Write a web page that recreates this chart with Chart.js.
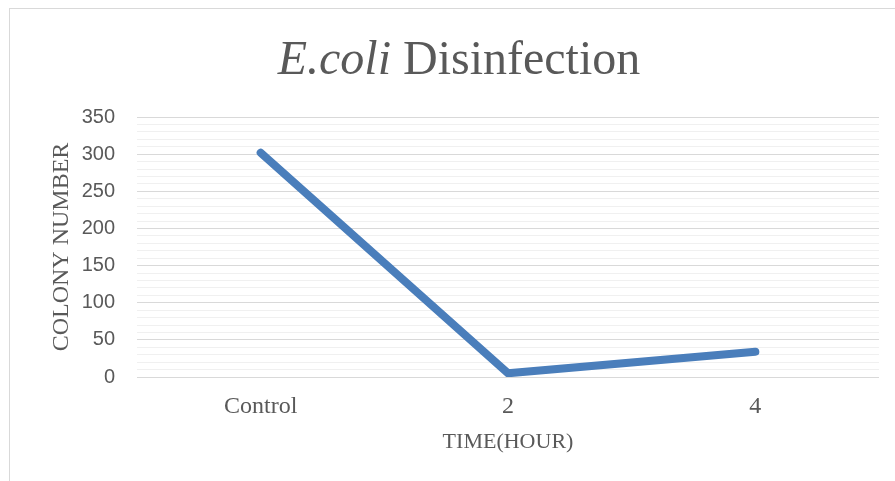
<!DOCTYPE html>
<html>
<head>
<meta charset="utf-8">
<script src="https://cdn.jsdelivr.net/npm/chart.js@4/dist/chart.umd.min.js"></script>
<style>
  html,body{margin:0;padding:0;background:#fff;}
  #wrap{position:relative;width:895px;height:481px;overflow:hidden;}
  #frame{position:absolute;left:9px;top:8px;width:900px;height:500px;border:1px solid #d9d9d9;box-sizing:border-box;}
  canvas{position:absolute;left:0;top:0;}
</style>
</head>
<body>
<div id="wrap">
  <div id="frame"></div>
  <canvas id="c" width="895" height="481"></canvas>
</div>
<script>
const categories = ['Control', '2', '4'];
const colonyNumber = [302, 5, 34];
const titleItalic = 'E.coli';
const titleRest = ' Disinfection';
const yTitle = 'COLONY NUMBER';
const xTitle = 'TIME(HOUR)';

const SERIF = '"Liberation Serif", "Times New Roman", serif';
const SANS = '"Liberation Sans", Arial, sans-serif';
const GREY = '#595959';

// title with italic species name, drawn onto the canvas
const mixedTitle = {
  id:'mixedTitle',
  afterDraw(chart){
    const ctx = chart.ctx;
    ctx.save();
    ctx.fillStyle = GREY;
    ctx.textBaseline = 'alphabetic';
    const fi = 'italic 48px ' + SERIF, fn = '48px ' + SERIF;
    ctx.font = fi; const w1 = ctx.measureText(titleItalic).width;
    ctx.font = fn; const w2 = ctx.measureText(titleRest).width;
    let x = 459 - (w1 + w2) / 2;
    const y = 74;
    ctx.font = fi; ctx.textAlign = 'left'; ctx.fillText(titleItalic, x, y);
    ctx.font = fn; ctx.fillText(titleRest, x + w1, y);
    ctx.restore();
  }
};

new Chart(document.getElementById('c'), {
  type:'line',
  data:{ labels:categories, datasets:[{
    data:colonyNumber,
    borderColor:'#4a7ebb',
    borderWidth:8,
    borderCapStyle:'round',
    borderJoinStyle:'round',
    pointRadius:0,
    tension:0,
    fill:false
  }]},
  options:{
    responsive:false,
    animation:false,
    devicePixelRatio:1,
    layout:{ padding:{ top:117, right:16, bottom:28, left:47 } },
    plugins:{ legend:{display:false}, tooltip:{enabled:false}, title:{display:false} },
    scales:{
      x:{
        offset:true,
        grid:{ display:false },
        border:{ display:false },
        ticks:{ color:GREY, padding:10, font:{ family:SERIF, size:24, lineHeight:1 } },
        title:{ display:true, text:xTitle, color:GREY, font:{ family:SERIF, size:22, lineHeight:1 }, padding:{ top:12, bottom:0 } },
        afterFit: s => { s.height = 76; }
      },
      y:{
        min:0, max:350,
        border:{ display:false },
        grid:{
          color: c => (c.tick && c.tick.value % 50 === 0) ? '#d9d9d9' : '#f0f0f0',
          lineWidth:1,
          tickLength:0,
          drawTicks:false
        },
        ticks:{
          stepSize:10,
          autoSkip:false,
          color:GREY,
          padding:22,
          font:{ family:SANS, size:20 },
          callback: v => v % 50 === 0 ? v : ''
        },
        title:{ display:true, text:yTitle, color:GREY, font:{ family:SERIF, size:24 }, padding:{ top:0, bottom:0 } },
        afterFit: s => { s.width = 90; }
      }
    }
  },
  plugins:[mixedTitle]
});
</script>
</body>
</html>
